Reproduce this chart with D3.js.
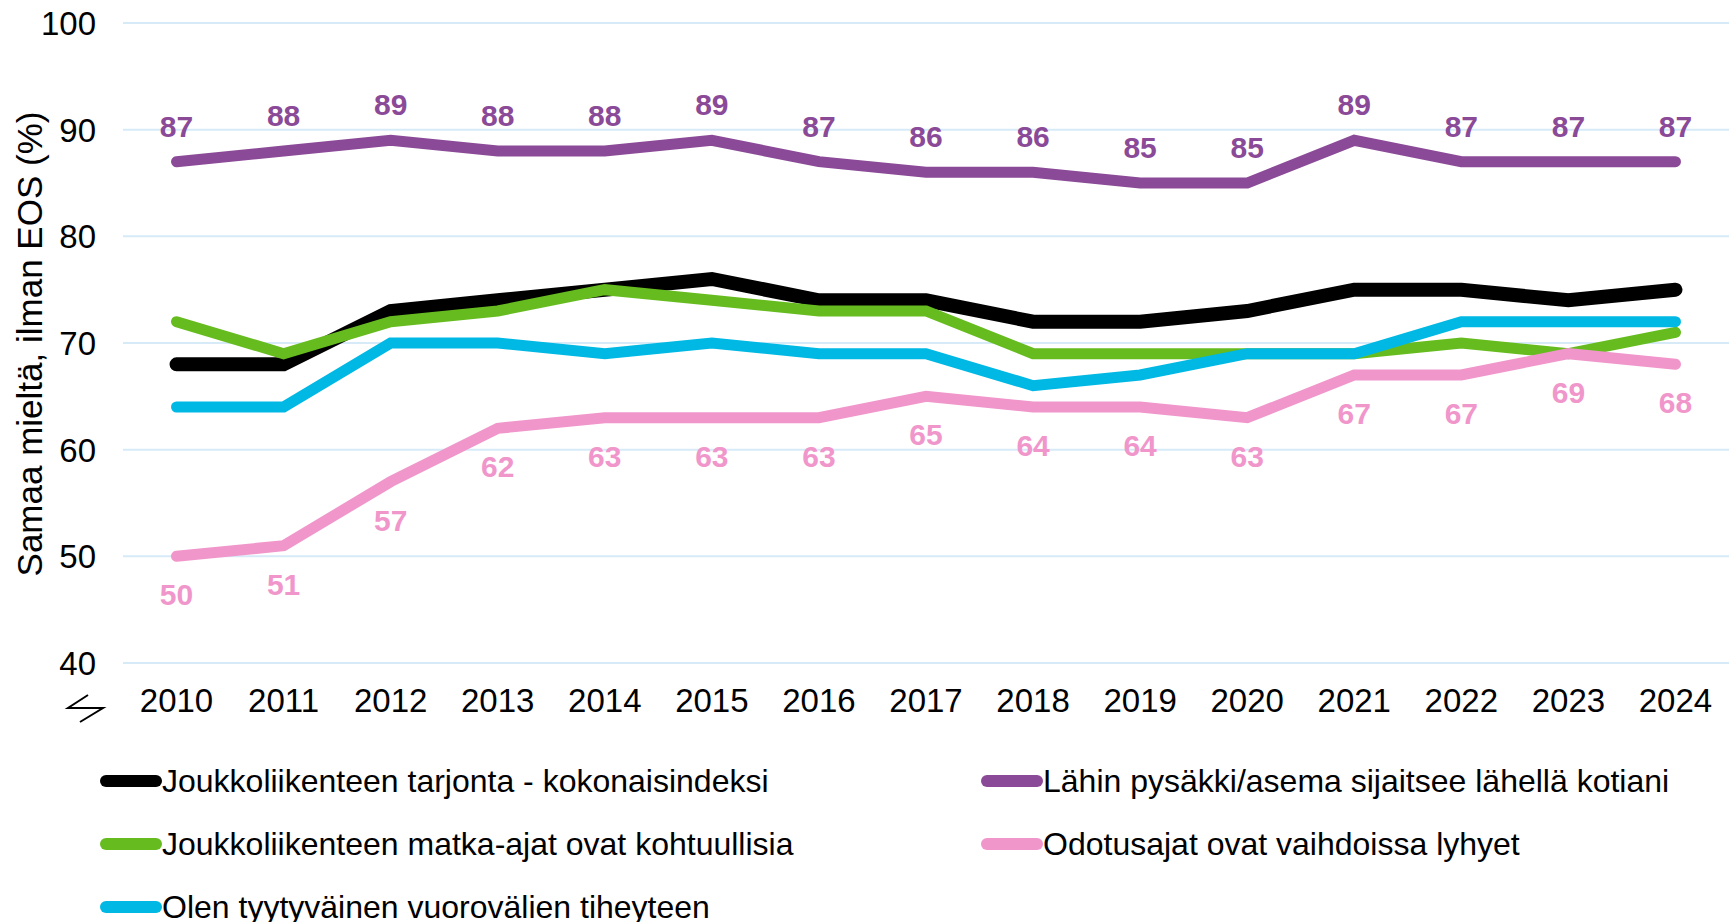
<!DOCTYPE html>
<html>
<head>
<meta charset="utf-8">
<script src="https://cdn.jsdelivr.net/npm/d3@7"></script>
<style>
  body { margin: 0; background: #fff; }
  svg { display: block; font-family: "Liberation Sans", Arial, sans-serif; }
</style>
</head>
<body>
<div id="chart"></div>
<script>
var years = ["2010", "2011", "2012", "2013", "2014", "2015", "2016", "2017", "2018", "2019", "2020", "2021", "2022", "2023", "2024"]
var tarjonta = [68, 68, 73, 74, 75, 76, 74, 74, 72, 72, 73, 75, 75, 74, 75]
var pysakki = [87, 88, 89, 88, 88, 89, 87, 86, 86, 85, 85, 89, 87, 87, 87]
var matkaajat = [72, 69, 72, 73, 75, 74, 73, 73, 69, 69, 69, 69, 70, 69, 71]
var odotusajat = [50, 51, 57, 62, 63, 63, 63, 65, 64, 64, 63, 67, 67, 69, 68]
var vuorovalit = [64, 64, 70, 70, 69, 70, 69, 69, 66, 67, 69, 69, 72, 72, 72]
var yTicks = [40, 50, 60, 70, 80, 90, 100]

function init() {
    var w = 1729
    var h = 922

    var series = [
        {name: "Joukkoliikenteen tarjonta - kokonaisindeksi", values: tarjonta, color: "#000000", width: 14},
        {name: "Lähin pysäkki/asema sijaitsee lähellä kotiani", values: pysakki, color: "#8B4A97", width: 11, labels: "above"},
        {name: "Joukkoliikenteen matka-ajat ovat kohtuullisia", values: matkaajat, color: "#66BC1F", width: 11},
        {name: "Odotusajat ovat vaihdoissa lyhyet", values: odotusajat, color: "#F096CB", width: 11, labels: "below"},
        {name: "Olen tyytyväinen vuorovälien tiheyteen", values: vuorovalit, color: "#00B8E4", width: 11}
    ]
    // drawing order: pink on top of green/cyan
    var drawOrder = [0, 2, 4, 1, 3]

    var svg = d3.select("#chart")
                .append("svg")
                .attr("width", w)
                .attr("height", h)

    var x = d3.scaleBand().domain(years).range([123, 1729]).padding(0)
    var y = d3.scaleLinear().domain([40, 100]).range([663, 23])
    var cx = d => x(d) + x.bandwidth() / 2

    // gridlines
    svg.append("g")
        .selectAll("line")
        .data(yTicks)
        .enter()
        .append("line")
        .attr("x1", 123)
        .attr("x2", w)
        .attr("y1", d => y(d))
        .attr("y2", d => y(d))
        .attr("stroke", "#D6EAF8")
        .attr("stroke-width", 2)

    // y tick labels
    svg.append("g")
        .selectAll("text")
        .data(yTicks)
        .enter()
        .append("text")
        .text(d => d)
        .attr("x", 96)
        .attr("y", d => y(d) + 12)
        .attr("text-anchor", "end")
        .style("font-size", "33px")
        .attr("fill", "#000")

    // x tick labels
    svg.append("g")
        .selectAll("text")
        .data(years)
        .enter()
        .append("text")
        .text(d => d)
        .attr("x", d => cx(d))
        .attr("y", 712)
        .attr("text-anchor", "middle")
        .style("font-size", "33px")
        .attr("fill", "#000")

    // axis break mark
    svg.append("path")
        .attr("d", "M88,695 L68,708 L103,708 L80,722")
        .attr("fill", "none")
        .attr("stroke", "#000")
        .attr("stroke-width", 2)

    // y axis title
    svg.append("text")
        .text("Samaa mieltä, ilman EOS (%)")
        .attr("transform", "translate(42,344) rotate(-90)")
        .attr("text-anchor", "middle")
        .style("font-size", "35px")
        .attr("fill", "#000")

    var line = d3.line()
        .x((d, i) => cx(years[i]))
        .y(d => y(d))

    drawOrder.forEach(k => {
        var s = series[k]
        svg.append("path")
            .datum(s.values)
            .attr("d", line)
            .attr("fill", "none")
            .attr("stroke", s.color)
            .attr("stroke-width", s.width)
            .attr("stroke-linecap", "round")
            .attr("stroke-linejoin", "miter")
    })

    // data labels
    series.filter(s => s.labels).forEach(s => {
        svg.append("g")
            .selectAll("text")
            .data(s.values)
            .enter()
            .append("text")
            .text(d => d)
            .attr("x", (d, i) => cx(years[i]))
            .attr("y", d => s.labels == "above" ? y(d) - 25 : y(d) + 49)
            .attr("text-anchor", "middle")
            .style("font-size", "30px")
            .style("font-weight", "bold")
            .attr("fill", s.color)
    })

    // legend
    var legendPos = [
        {col: 0, row: 0}, {col: 1, row: 0},
        {col: 0, row: 1}, {col: 1, row: 1},
        {col: 0, row: 2}
    ]
    var legendOrder = [0, 1, 2, 3, 4]
    var colX = [100, 981]
    var rowY = [781, 844, 907]

    var legend = svg.append("g")
        .selectAll("g")
        .data(legendOrder)
        .enter()
        .append("g")
        .attr("transform", (d, i) => `translate(${colX[legendPos[i].col]},${rowY[legendPos[i].row]})`)

    legend.append("line")
        .attr("x1", 6)
        .attr("x2", 56)
        .attr("y1", 0)
        .attr("y2", 0)
        .attr("stroke", d => series[d].color)
        .attr("stroke-width", 12)
        .attr("stroke-linecap", "round")

    legend.append("text")
        .text(d => series[d].name)
        .attr("x", 62)
        .attr("y", 11)
        .style("font-size", "32px")
        .attr("fill", "#000")
}

window.onload = init;
</script>
</body>
</html>
